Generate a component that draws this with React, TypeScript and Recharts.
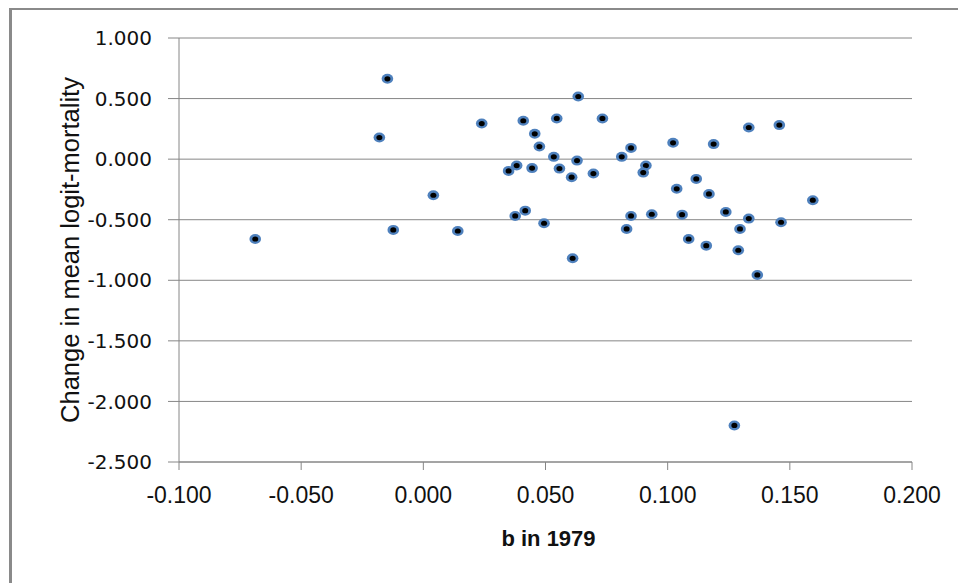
import React from "react";
import { ScatterChart, Scatter, XAxis, YAxis, CartesianGrid } from "recharts";

const bValues = [
  -0.0147, -0.018, 0.0239, 0.0409, 0.0456, 0.0475, 0.0382, 0.0349, 0.0445, 0.0041,
  0.0417, 0.0376, 0.0494, -0.0123, 0.0141, -0.0688,
  0.0634, 0.0546, 0.0733, 0.1332, 0.1457, 0.1022, 0.1188, 0.085, 0.0534, 0.0812,
  0.0629, 0.0911, 0.09, 0.0557, 0.0607, 0.0696, 0.1117, 0.1037, 0.1169, 0.1594,
  0.1238, 0.085, 0.0935, 0.1059, 0.1332, 0.1464, 0.1296, 0.0832, 0.1086, 0.1158,
  0.1289, 0.0611, 0.1367, 0.1273,
];
const changeValues = [
  0.663, 0.178, 0.294, 0.317, 0.209, 0.104, -0.053, -0.097, -0.074, -0.298,
  -0.425, -0.469, -0.529, -0.584, -0.593, -0.659,
  0.517, 0.336, 0.336, 0.261, 0.281, 0.135, 0.124, 0.093, 0.019, 0.019,
  -0.012, -0.053, -0.111, -0.078, -0.149, -0.119, -0.163, -0.245, -0.287, -0.339,
  -0.436, -0.469, -0.455, -0.458, -0.491, -0.521, -0.576, -0.576, -0.659, -0.714,
  -0.752, -0.818, -0.956, -2.198,
];
const xTicks = [-0.1, -0.05, 0, 0.05, 0.1, 0.15, 0.2];
const yTicks = [-2.5, -2, -1.5, -1, -0.5, 0, 0.5, 1];

const points = bValues.map((b, i) => ({ b, change: changeValues[i] }));

const GRAY = "#868686";

const Marker = (props: any) => {
  const { cx, cy } = props;
  if (cx == null || cy == null) return null;
  return (
    <g>
      <ellipse cx={cx} cy={cy} rx={5.8} ry={5} fill="#4F81BD" />
      <ellipse cx={cx} cy={cy} rx={3} ry={2.6} fill="#000000" />
    </g>
  );
};

const fmt = (v: number) => v.toFixed(3);

export default function App() {
  return (
    <div style={{ position: "absolute", left: 0, top: 0, width: 958, height: 583, background: "#fff", overflow: "hidden" }}>
      <div
        style={{
          position: "absolute",
          left: 9,
          top: 8,
          width: 1000,
          height: 600,
          borderLeft: "3px solid #8a8a8a",
          borderTop: "2px solid #8a8a8a",
        }}
      />
      <div style={{ position: "absolute", left: 0, top: 0 }}>
        <ScatterChart width={958} height={583} margin={{ top: 38, right: 46, bottom: 41, left: 79 }}>
          <CartesianGrid horizontal={true} vertical={false} stroke={GRAY} strokeWidth={1} />
          <XAxis
            type="number"
            dataKey="b"
            domain={[-0.1, 0.2]}
            ticks={xTicks}
            tickFormatter={fmt}
            height={80}
            stroke={GRAY}
            tickSize={8}
            tickMargin={17}
            tick={{ fill: "#111", fontSize: 23, fontFamily: "Liberation Sans" }}
            allowDataOverflow
            label={(p: any) => {
              const vb = p.viewBox;
              return (
                <text
                  x={vb.x + vb.width / 2 + 3}
                  y={vb.y + 84}
                  textAnchor="middle"
                  fontFamily="Liberation Sans"
                  fontWeight="bold"
                  fontSize={22}
                  fill="#111"
                >
                  b in 1979
                </text>
              );
            }}
          />
          <YAxis
            type="number"
            dataKey="change"
            domain={[-2.5, 1]}
            ticks={yTicks}
            tickFormatter={fmt}
            width={100}
            stroke={GRAY}
            tickSize={11}
            tickMargin={16}
            tick={{ fill: "#111", fontSize: 20, fontFamily: "DejaVu Sans" }}
            allowDataOverflow
            label={(p: any) => {
              const vb = p.viewBox;
              const cx = 79;
              const cy = vb.y + vb.height / 2;
              return (
                <text
                  x={cx}
                  y={cy}
                  transform={`rotate(-90, ${cx}, ${cy})`}
                  textAnchor="middle"
                  fontFamily="Liberation Sans"
                  fontSize={25.5}
                  fill="#111"
                >
                  Change in mean logit-mortality
                </text>
              );
            }}
          />
          <Scatter data={points} shape={<Marker />} isAnimationActive={false} />
        </ScatterChart>
      </div>
    </div>
  );
}
